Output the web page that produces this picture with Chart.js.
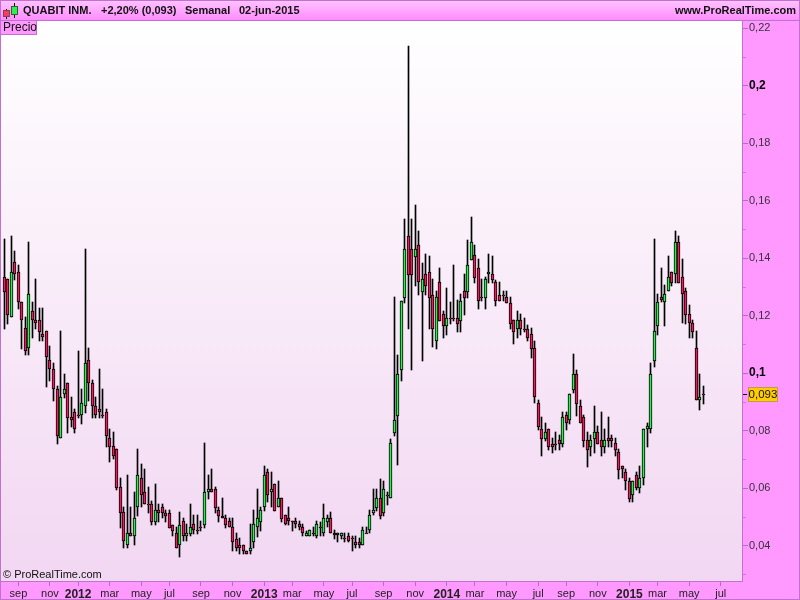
<!DOCTYPE html>
<html><head><meta charset="utf-8">
<style>html,body{margin:0;padding:0;background:#ff99ff;overflow:hidden}#w{position:absolute;left:0;top:0;width:800px;height:600px}</style>
<script src="https://cdn.jsdelivr.net/npm/chart.js@4"></script>
</head><body><div id="w"><canvas id="c" width="800" height="600"></canvas></div>
<script>
const opens=[.1333,.1326,.1194,.1385,.1353,.1246,.1155,.1086,.1214,.1183,.1183,.1134,.1145,.1044,.1013,.0943,.0773,.0926,.0964,.0846,
.0863,.0853,.0853,.0884,.1044,.0964,.0884,.0874,.0853,.0863,.0773,.0745,.0735,.0602,.0516,.0403,.0443,.0434,.0533,.0634,
.0585,.0543,.0543,.0483,.0522,.0533,.0514,.0514,.0473,.0443,.0403,.0484,.0434,.0439,.0474,.0453,.0463,.0472,.0585,.0595,
.0595,.0522,.0504,.0494,.0484,.0463,.0424,.0403,.0403,.0382,.0382,.0413,.0463,.0483,.0533,.0654,.0585,.0613,.0533,.0564,
.0505,.0494,.0484,.0484,.0474,.0463,.0434,.0434,.0442,.0434,.0463,.0442,.0483,.0494,.0442,.0442,.0434,.0425,.0434,.0425,
.0413,.0413,.0403,.0442,.0453,.0514,.0532,.0564,.0514,.0574,.0564,.0792,.0851,.1012,.1262,.1475,.1433,.1404,.1444,.1283,
.1343,.1353,.1273,.1112,.1315,.1204,.1164,.1193,.1193,.1193,.1182,.1284,.1283,.1394,.1412,.1364,.1263,.1262,.1343,.1343,
.1315,.1273,.1273,.1263,.1245,.1183,.1154,.1183,.1154,.1154,.1134,.1086,.0894,.0804,.0771,.0804,.0754,.0754,.0766,.0754,
.0853,.0835,.0941,.0995,.0884,.0846,.0766,.0744,.0771,.0794,.0766,.0744,.0773,.0773,.0755,.0724,.0675,.0655,.0623,.0574,
.0644,.0601,.0634,.0804,.0804,.1043,.1165,.1263,.1246,.1284,.1353,.1344,.1454,.1333,.1284,.1204,.1173,.1086,.0905,.0926];
const highs=[.1466,.1326,.1476,.1423,.1374,.1246,.1194,.1454,.1246,.1326,.1225,.1225,.1145,.1094,.1034,.0954,.1145,.0997,.0964,.0915,
.0874,.1075,.0943,.1433,.1086,.0975,.0915,.1013,.0943,.0874,.0804,.0794,.0735,.0634,.0533,.0644,.0533,.0585,.0735,.0682,
.0665,.0602,.0554,.0613,.0543,.0543,.0522,.0522,.0473,.0463,.0516,.0495,.0475,.0544,.0506,.0506,.0484,.0755,.0645,.0665,
.0605,.0533,.0564,.0506,.0494,.0494,.0443,.0425,.0403,.0382,.0475,.0523,.0595,.0533,.0676,.0665,.0656,.0613,.0624,.0564,
.0505,.0533,.0484,.0494,.0484,.0474,.0452,.0454,.0463,.0485,.0483,.0544,.0506,.0515,.0454,.0442,.0442,.0442,.0442,.0433,
.0434,.0425,.0463,.0463,.0523,.0595,.0596,.0633,.0623,.0586,.0772,.1263,.1064,.1252,.1535,.2137,.1535,.1584,.1494,.1384,
.1414,.1407,.1327,.1284,.1364,.1214,.1295,.1247,.1375,.1254,.1274,.1344,.1464,.1544,.1445,.1396,.1327,.1335,.1414,.1407,
.1325,.1315,.1284,.1284,.1265,.1183,.1215,.1204,.1193,.1167,.1155,.1113,.0905,.0846,.0825,.0804,.0773,.0794,.0783,.0863,
.0863,.0926,.1065,.1012,.0906,.0853,.0794,.0783,.0884,.0814,.0863,.0804,.0846,.0783,.0773,.0734,.0675,.0665,.0634,.0623,
.0655,.0675,.0804,.0825,.1034,.1466,.1274,.1365,.1305,.1406,.1353,.1494,.1476,.1395,.1294,.1236,.1183,.1146,.0995,.0955];
const lows=[.1154,.1170,.1194,.1323,.1224,.1083,.1063,.1064,.1123,.1154,.1112,.1112,.0951,.0973,.0904,.0754,.0773,.0914,.0793,.0813,
.0793,.0845,.0824,.0862,.0904,.0845,.0845,.0845,.0845,.0744,.0692,.0702,.0594,.0462,.0393,.0393,.0434,.0403,.0504,.0533,
.0543,.0514,.0473,.0473,.0483,.0494,.0483,.0462,.0434,.0393,.0360,.0414,.0414,.0433,.0440,.0440,.0450,.0462,.0563,.0585,
.0514,.0483,.0494,.0462,.0463,.0382,.0382,.0370,.0370,.0370,.0370,.0392,.0431,.0452,.0521,.0552,.0533,.0521,.0533,.0483,
.0472,.0472,.0452,.0462,.0454,.0433,.0433,.0434,.0433,.0425,.0433,.0433,.0463,.0442,.0423,.0413,.0424,.0413,.0413,.0382,
.0391,.0391,.0403,.0442,.0442,.0505,.0521,.0492,.0502,.0540,.0564,.0780,.0680,.0973,.1243,.1154,.1011,.1302,.1271,.1043,
.1271,.1154,.1091,.1084,.1182,.1123,.1132,.1172,.1182,.1142,.1142,.1203,.1262,.1394,.1313,.1223,.1251,.1223,.1314,.1314,
.1234,.1251,.1251,.1244,.1154,.1102,.1123,.1132,.1142,.1112,.1053,.0894,.0803,.0712,.0764,.0733,.0723,.0733,.0733,.0744,
.0803,.0822,.0931,.0851,.0825,.0744,.0674,.0712,.0723,.0754,.0712,.0723,.0744,.0744,.0712,.0632,.0634,.0593,.0553,.0553,
.0593,.0584,.0612,.0744,.0793,.1022,.1133,.1246,.1165,.1284,.1304,.1314,.1314,.1173,.1170,.1123,.1123,.0905,.0873,.0893];
const closes=[.1283,.1203,.1353,.1343,.1246,.1183,.1075,.1274,.1183,.1173,.1144,.1124,.1054,.1013,.0943,.0782,.0915,.0943,.0845,.0835,
.0804,.0853,.0895,.1034,.0964,.0884,.0853,.0863,.0853,.0782,.0744,.0713,.0601,.0514,.0414,.0443,.0434,.0495,.0644,.0575,
.0543,.0543,.0483,.0522,.0514,.0514,.0504,.0462,.0452,.0393,.0473,.0434,.0443,.0463,.0453,.0453,.0463,.0585,.0595,.0585,
.0532,.0504,.0494,.0472,.0463,.0413,.0392,.0392,.0382,.0372,.0392,.0474,.0494,.0522,.0644,.0574,.0595,.0521,.0564,.0493,
.0474,.0484,.0484,.0474,.0463,.0442,.0442,.0453,.0442,.0474,.0463,.0494,.0494,.0442,.0435,.0435,.0442,.0425,.0415,.0425,
.0403,.0403,.0453,.0442,.0505,.0522,.0564,.0503,.0595,.0574,.0755,.0835,.0995,.1252,.1433,.1342,.1342,.1433,.1315,.1327,
.1302,.1262,.1154,.1263,.1182,.1164,.1193,.1193,.1193,.1171,.1252,.1262,.1374,.1454,.1331,.1251,.1263,.1327,.1353,.1324,
.1251,.1251,.1273,.1244,.1171,.1144,.1183,.1154,.1154,.1123,.1084,.0915,.0813,.0771,.0794,.0744,.0744,.0754,.0754,.0846,
.0825,.0926,.0995,.0893,.0825,.0764,.0733,.0766,.0794,.0754,.0744,.0766,.0764,.0764,.0733,.0664,.0665,.0623,.0563,.0623,
.0601,.0634,.0804,.0815,.0995,.1146,.1246,.1253,.1274,.1334,.1314,.1454,.1314,.1274,.1203,.1173,.1144,.0905,.0915,.0926];

const monthTickWeeks=[4,13,21,30,39,47,56,65,74,82,91,99,108,117,126,134,143,152,160,169,178,186,195,204];
const monthTickLabels=['sep','nov','2012','mar','may','jul','sep','nov','2013','mar','may','jul','sep','nov','2014','mar','may','jul','sep','nov','2015','mar','may','jul'];
const priceTicks=[.22,.21,.20,.19,.18,.17,.16,.15,.14,.13,.12,.11,.10,.09,.08,.07,.06,.05,.04,.03];
const priceLabels=['0,22','','0,2','','0,18','','0,16','','0,14','','0,12','','0,1','','0,08','','0,06','','0,04',''];
const lastPrice=0.0926, lastPriceLabel='0,093';
const weeks=opens.map((_,i)=>i);

const SANS='"Liberation Sans",Arial,sans-serif', PURPLE='#c071cf', PANEL='#ff99ff';
const isYear=s=>/^\d{4}$/.test(s);

const chrome={id:'chrome',
 beforeDraw(ch){const c=ch.ctx,a=ch.chartArea;c.save();
  c.fillStyle=PANEL;c.fillRect(0,0,800,600);
  const g=c.createLinearGradient(0,a.top,0,a.bottom);g.addColorStop(0,'#ffffff');g.addColorStop(1,'#f2d7f2');
  c.fillStyle=g;c.fillRect(a.left,a.top,a.right-a.left,a.bottom-a.top);
  c.restore();},
 afterDraw(ch){const c=ch.ctx,a=ch.chartArea,xs=ch.scales.x,ys=ch.scales.y;c.save();
  const h=c.createLinearGradient(0,0,0,20);h.addColorStop(0,'#ffc4ff');h.addColorStop(1,'#ff8cff');
  c.fillStyle=h;c.fillRect(0,0,800,20);
  c.fillStyle=PURPLE;c.fillRect(0,0,800,1);c.fillRect(0,20,800,1);c.fillRect(0,0,1,600);c.fillRect(0,599,800,1);c.fillRect(799,0,1,600);
  c.fillRect(742,20,1,562);c.fillRect(0,581,743,1);
  priceTicks.forEach((v,i)=>{c.fillStyle=priceLabels[i]?'#b070c0':'#c080d0';c.fillRect(743,Math.round(ys.getPixelForValue(v)),priceLabels[i]?5:3,1);});
  monthTickWeeks.forEach(w=>{c.fillStyle='#b070c0';c.fillRect(Math.floor(xs.getPixelForValue(w)),582,1,4);});
  c.fillStyle='#000';c.fillRect(6,9,1,10);c.fillStyle='#884050';c.fillRect(3,10,7,7);c.fillStyle='#f04060';c.fillRect(4,11,5,5);
  c.fillStyle='#000';c.fillRect(14,3,1,15);c.fillStyle='#306030';c.fillRect(11,6,7,9);c.fillStyle='#30f050';c.fillRect(12,7,5,7);
  c.fillStyle='#111';c.textBaseline='middle';c.textAlign='left';
  c.font='bold 11px '+SANS;c.fillText('QUABIT INM.',23,10.5);
  c.fillText('+2,20% (0,093)',101,10.5);c.fillText('Semanal',185,10.5);c.fillText('02-jun-2015',239,10.5);
  c.textAlign='right';c.fillText('www.ProRealTime.com',796,10.5);
  c.fillStyle='#ff99ff';c.fillRect(1,21,35,13);c.fillStyle=PURPLE;c.fillRect(36,21,1,14);c.fillRect(1,34,36,1);
  c.fillStyle='#111';c.textAlign='left';c.font='12px '+SANS;c.fillText('Precio',3,27.5);
  c.font='11px '+SANS;c.fillText('\u00a9 ProRealTime.com',3,575);
  const ly=Math.round(ys.getPixelForValue(lastPrice));
  c.fillStyle='#000';c.fillRect(743,ly,4,1);
  c.fillStyle='#c09a50';c.fillRect(748,ly-7,30,15);c.fillStyle='#ffcc00';c.fillRect(749,ly-6,28,13);
  c.fillStyle='#111';c.textAlign='center';c.font='11.5px '+SANS;c.fillText(lastPriceLabel,763,ly+1);
  c.restore();},
 afterDatasetsUpdate(ch){
  ch.data.datasets.forEach((d,i)=>{ch.getDatasetMeta(i).data.forEach(el=>{
    el.x=Math.floor(el.x)+.5;
    let t=Math.round(Math.min(el.y,el.base)),b=Math.round(Math.max(el.y,el.base));if(b-t<1)b=t+1;
    el.y=t;el.base=b;el.height=b-t;});});}
};

new Chart(document.getElementById('c'),{
 type:'bar',
 data:{datasets:[
  {label:'Rango',order:2,grouped:false,data:weeks.map(i=>({x:i,y:[lows[i],highs[i]]})),backgroundColor:'#000',borderWidth:0,barPercentage:1,categoryPercentage:1,maxBarThickness:1},
  {label:'Cuerpo',order:1,grouped:false,data:weeks.map(i=>({x:i,y:[opens[i],closes[i]]})),
   backgroundColor:c=>closes[c.dataIndex]>opens[c.dataIndex]?'#2cf04c':'#ee1c5c',borderColor:'#000',borderWidth:1,borderSkipped:false,barPercentage:1,categoryPercentage:1,maxBarThickness:3}
 ]},
 options:{responsive:false,animation:false,
  layout:{padding:{left:1,top:20,right:0,bottom:0}},
  plugins:{legend:{display:false},tooltip:{enabled:false},title:{display:false}},
  scales:{
   x:{type:'linear',min:-0.948,max:210.05,offset:false,
    grid:{display:false,drawTicks:false},border:{display:false},
    afterBuildTicks:s=>{s.ticks=monthTickWeeks.map(v=>({value:v}));},
    afterFit:s=>{s.height=19;},
    ticks:{autoSkip:false,maxRotation:0,minRotation:0,padding:6,includeBounds:false,
     callback:(v)=>monthTickLabels[monthTickWeeks.indexOf(v)],
     color:'#222',
     font:c=>{const l=monthTickLabels[c.index]||'';return isYear(l)?{family:SANS,size:12,weight:'bold'}:{family:SANS,size:11};}}},
   y:{type:'linear',position:'right',min:.02765,max:.22278,
    grid:{display:false,drawTicks:false},border:{display:false},
    afterBuildTicks:s=>{s.ticks=priceTicks.map(v=>({value:v}));},
    afterFit:s=>{s.width=58;},
    ticks:{autoSkip:false,padding:7,align:'center',
     callback:(v)=>priceLabels[priceTicks.indexOf(v)],
     color:c=>{const l=priceLabels[c.index]||'';return l.length===3?'#000':'#333';},
     font:c=>{const l=priceLabels[c.index]||'';return l.length===3?{family:SANS,size:12,weight:'bold'}:{family:SANS,size:11};}}}
  }},
 plugins:[chrome]
});
</script></body></html>
